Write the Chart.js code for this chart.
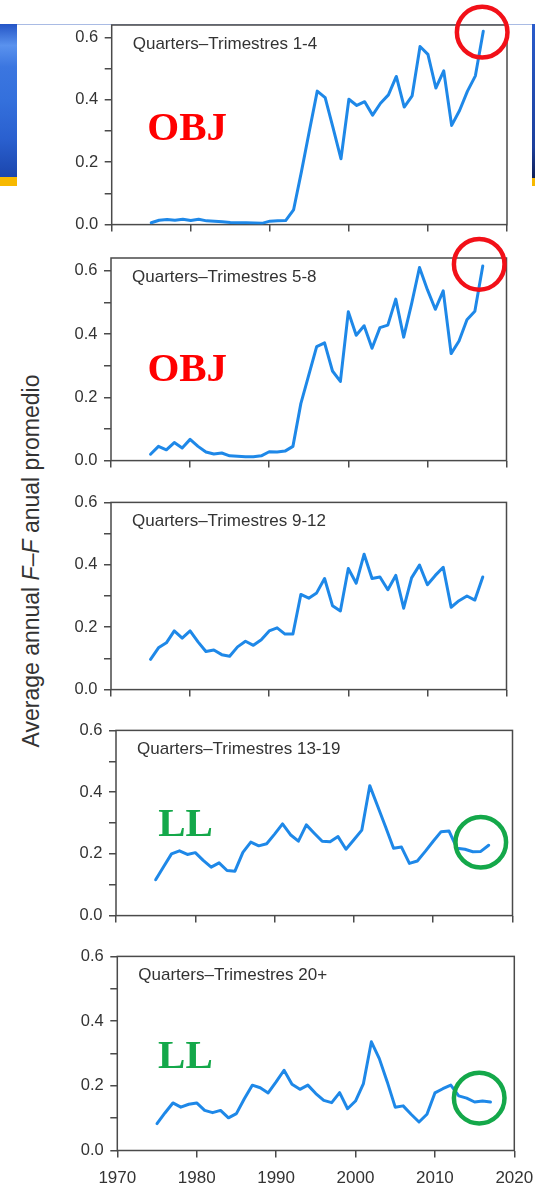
<!DOCTYPE html>
<html>
<head>
<meta charset="utf-8">
<title>Average annual F–F by quarter group</title>
<script src="https://cdn.jsdelivr.net/npm/chart.js@4.4.1/dist/chart.umd.min.js"></script>
<style>
  html, body { margin: 0; padding: 0; background: #fff; overflow: hidden; }
  #stage { position: relative; width: 535px; height: 1186px; overflow: hidden; background: #fff; }
  .deco { position: absolute; }
  #blueL { left: 0; top: 24px; width: 17px; height: 153px;
    background: linear-gradient(to bottom, #2455c6 0%, #5a92ee 14%, #3b76e0 28%, #3470dc 50%, #2a60cf 75%, #1b46ad 100%); }
  #goldL { left: 0; top: 177px; width: 17px; height: 9px; background: #f7b900; }
  #blueR { left: 532px; top: 24px; width: 3px; height: 154px;
    background: linear-gradient(to bottom, #2a5ccc, #1c3f9c 80%, #0f1f55 100%); }
  #goldR { left: 532px; top: 178px; width: 3px; height: 8px; background: #f7b900; }
  #frameTop { left: 17px; top: 23.5px; width: 515px; height: 1.5px; background: #a9bbe4; }
  canvas.panel { position: absolute; left: 0; }
  #ytitle { position: absolute; left: 30.5px; top: 560.5px;
    transform: translate(-50%, -50%) rotate(-90deg);
    white-space: nowrap; font: 23px 'Liberation Sans', Arial, sans-serif; line-height: 23px; color: #333; }
</style>
</head>
<body>
<div id="stage">
  <div class="deco" id="blueL"></div>
  <div class="deco" id="goldL"></div>
  <div class="deco" id="blueR"></div>
  <div class="deco" id="goldR"></div>
  <div class="deco" id="frameTop"></div>
  <div id="ytitle">Average annual <i>F</i>–<i>F</i> anual promedio</div>
</div>
<script>
// ---- data -------------------------------------------------------------
const years = [1975, 1976, 1977, 1978, 1979, 1980, 1981, 1982, 1983, 1984,
               1985, 1986, 1987, 1988, 1989, 1990, 1991, 1992, 1993, 1994,
               1995, 1996, 1997, 1998, 1999, 2000, 2001, 2002, 2003, 2004,
               2005, 2006, 2007, 2008, 2009, 2010, 2011, 2012, 2013, 2014,
               2015, 2016, 2017];

const fQ1to4 = [0.006, 0.014, 0.016, 0.014, 0.017, 0.013, 0.017, 0.012, 0.011, 0.009,
                0.007, 0.006, 0.006, 0.005, 0.004, 0.011, 0.012, 0.013, 0.047, 0.17,
                0.30, 0.428, 0.407, 0.31, 0.211, 0.402, 0.382, 0.394, 0.351, 0.389,
                0.416, 0.475, 0.377, 0.413, 0.571, 0.546, 0.438, 0.493, 0.318, 0.366,
                0.428, 0.477, 0.62];

const fQ5to8 = [0.02, 0.045, 0.034, 0.057, 0.04, 0.067, 0.045, 0.027, 0.021, 0.024,
                0.015, 0.014, 0.012, 0.012, 0.015, 0.028, 0.027, 0.03, 0.045, 0.18,
                0.27, 0.36, 0.372, 0.283, 0.25, 0.47, 0.396, 0.426, 0.355, 0.42,
                0.428, 0.51, 0.39, 0.495, 0.61, 0.54, 0.478, 0.536, 0.338, 0.378,
                0.445, 0.472, 0.615];

const fQ9to12 = [0.097, 0.134, 0.15, 0.188, 0.165, 0.188, 0.153, 0.122, 0.127, 0.112,
                 0.107, 0.137, 0.155, 0.142, 0.16, 0.188, 0.198, 0.178, 0.178, 0.305,
                 0.293, 0.31, 0.356, 0.269, 0.252, 0.388, 0.341, 0.434, 0.356, 0.361,
                 0.32, 0.366, 0.261, 0.358, 0.399, 0.336, 0.366, 0.392, 0.264, 0.285,
                 0.30, 0.287, 0.361];

const fQ13to19 = [0.116, 0.158, 0.20, 0.21, 0.198, 0.204, 0.179, 0.157, 0.171, 0.146,
                  0.144, 0.205, 0.238, 0.226, 0.233, 0.264, 0.297, 0.262, 0.241, 0.294,
                  0.267, 0.241, 0.239, 0.256, 0.215, 0.246, 0.277, 0.421, 0.354, 0.287,
                  0.218, 0.222, 0.169, 0.177, 0.208, 0.241, 0.272, 0.274, 0.218, 0.215,
                  0.207, 0.208, 0.228];

const fQ20plus = [0.083, 0.116, 0.147, 0.134, 0.143, 0.147, 0.124, 0.117, 0.124, 0.101,
                  0.114, 0.16, 0.202, 0.194, 0.178, 0.212, 0.248, 0.205, 0.189, 0.202,
                  0.176, 0.155, 0.148, 0.179, 0.129, 0.153, 0.207, 0.336, 0.284, 0.212,
                  0.134, 0.138, 0.112, 0.088, 0.112, 0.178, 0.191, 0.202, 0.169, 0.162,
                  0.15, 0.153, 0.15];

const panelTitles = ['Quarters–Trimestres 1-4', 'Quarters–Trimestres 5-8',
                     'Quarters–Trimestres 9-12', 'Quarters–Trimestres 13-19',
                     'Quarters–Trimestres 20+'];
const xTicks = [1970, 1980, 1990, 2000, 2010, 2020];
const yTicks = [0, 0.1, 0.2, 0.3, 0.4, 0.5, 0.6];
const yLabelTicks = [0, 0.2, 0.4, 0.6];

// ---- layout of the five stacked panels (page pixels) -----------------------
const CANVAS_W = 570;
const SANS = "'Liberation Sans', Arial, Helvetica, sans-serif";
const SERIF = "'Liberation Serif', 'Times New Roman', serif";
const RED = '#f21018', GREEN = '#14a84a';

const panels = [
  { series: fQ1to4,   top: 0,   padTop: 25, L: 111.7, R: 507,   h: 207.5, xH: 8.5, yMax: 0.64, showX: false,
    tags:  [{ text: 'OBJ', color: '#ff0000', x: 1974.5, y: 0.27 }],
    rings: [{ color: RED, x: 2016.86, y: 0.617 }] },
  { series: fQ5to8,   top: 236, padTop: 22, L: 111,   R: 506.5, h: 210,   xH: 9,   yMax: 0.64, showX: false,
    tags:  [{ text: 'OBJ', color: '#ff0000', x: 1974.6, y: 0.253 }],
    rings: [{ color: RED, x: 2016.55, y: 0.62 }] },
  { series: fQ9to12,  top: 486, padTop: 14, L: 111,   R: 506.5, h: 197,   xH: 9,   yMax: 0.6,  showX: false,
    tags: [], rings: [] },
  { series: fQ13to19, top: 714, padTop: 14, L: 116,   R: 512.5, h: 195,   xH: 9,   yMax: 0.6,  showX: false,
    tags:  [{ text: 'LL', color: GREEN, x: 1975.33, y: 0.2575 }],
    rings: [{ color: GREEN, x: 2016.0, y: 0.2375 }] },
  { series: fQ20plus, top: 940, padTop: 14, L: 117.3, R: 514.3, h: 196.5, xH: 35.5, yMax: 0.6, showX: true,
    tags:  [{ text: 'LL', color: GREEN, x: 1975.13, y: 0.256 }],
    rings: [{ color: GREEN, x: 2015.58, y: 0.162 }] }
];

// Box round the plot area, panel caption, and the OBJ / LL call-outs.
const panelDecor = {
  id: 'panelDecor',
  beforeDatasetsDraw(chart, args, opts) {
    const { ctx, chartArea: a } = chart;
    ctx.save();
    ctx.strokeStyle = '#4a4a4a';
    ctx.lineWidth = 1.5;
    ctx.strokeRect(a.left, a.top, a.right - a.left, a.bottom - a.top);
    ctx.fillStyle = '#333';
    ctx.font = '17px ' + SANS;
    ctx.textAlign = 'left';
    ctx.textBaseline = 'alphabetic';
    ctx.fillText(opts.title, a.left + 21, a.top + 23.5);
    ctx.restore();
  },
  afterDraw(chart, args, opts) {
    const { ctx, scales: { x, y } } = chart;
    ctx.save();
    (opts.tags || []).forEach(t => {
      ctx.fillStyle = t.color;
      ctx.font = 'bold 41px ' + SERIF;
      ctx.textAlign = 'left';
      ctx.textBaseline = 'alphabetic';
      ctx.fillText(t.text, x.getPixelForValue(t.x), y.getPixelForValue(t.y));
    });
    (opts.rings || []).forEach(r => {
      ctx.strokeStyle = r.color;
      ctx.lineWidth = 4.5;
      ctx.beginPath();
      ctx.arc(x.getPixelForValue(r.x), y.getPixelForValue(r.y), 25.3, 0, Math.PI * 2);
      ctx.stroke();
    });
    ctx.restore();
  }
};

const stage = document.getElementById('stage');

panels.forEach((p, i) => {
  const canvasH = p.padTop + p.h + p.xH;
  const cv = document.createElement('canvas');
  cv.className = 'panel';
  cv.width = CANVAS_W;
  cv.height = Math.round(canvasH);
  cv.style.top = p.top + 'px';
  cv.style.width = CANVAS_W + 'px';
  cv.style.height = Math.round(canvasH) + 'px';
  stage.appendChild(cv);

  const axisLine = { drawOnChartArea: false, drawTicks: true, tickLength: 7, color: '#4a4a4a', lineWidth: 1.5 };

  new Chart(cv, {
    type: 'line',
    data: {
      datasets: [{
        data: years.map((yr, k) => ({ x: yr, y: p.series[k] })),
        borderColor: '#1e88e8',
        borderWidth: 3,
        pointRadius: 0,
        tension: 0,
        fill: false,
        borderJoinStyle: 'round',
        borderCapStyle: 'round'
      }]
    },
    options: {
      responsive: false,
      animation: false,
      devicePixelRatio: 1,
      layout: { padding: { top: p.padTop, left: 0, right: CANVAS_W - p.R, bottom: 0 } },
      plugins: {
        legend: { display: false },
        tooltip: { enabled: false },
        panelDecor: { title: panelTitles[i], tags: p.tags, rings: p.rings }
      },
      scales: {
        x: {
          type: 'linear',
          min: 1970,
          max: 2020,
          afterBuildTicks: s => { s.ticks = xTicks.map(v => ({ value: v })); },
          afterFit: s => { s.height = p.xH; },
          grid: axisLine,
          border: { display: false },
          ticks: { display: p.showX, padding: 11, color: '#333', font: { family: SANS, size: 17 },
                   maxRotation: 0, callback: v => String(v) }
        },
        y: {
          type: 'linear',
          min: 0,
          max: p.yMax,
          afterBuildTicks: s => { s.ticks = yTicks.map(v => ({ value: v })); },
          afterFit: s => { s.width = p.L; },
          grid: axisLine,
          border: { display: false },
          ticks: { padding: 6.5, color: '#333', font: { family: SANS, size: 16.5 },
                   callback: v => yLabelTicks.some(t => Math.abs(t - v) < 1e-9) ? v.toFixed(1) : '' }
        }
      }
    },
    plugins: [panelDecor]
  });
});
</script>
</body>
</html>
